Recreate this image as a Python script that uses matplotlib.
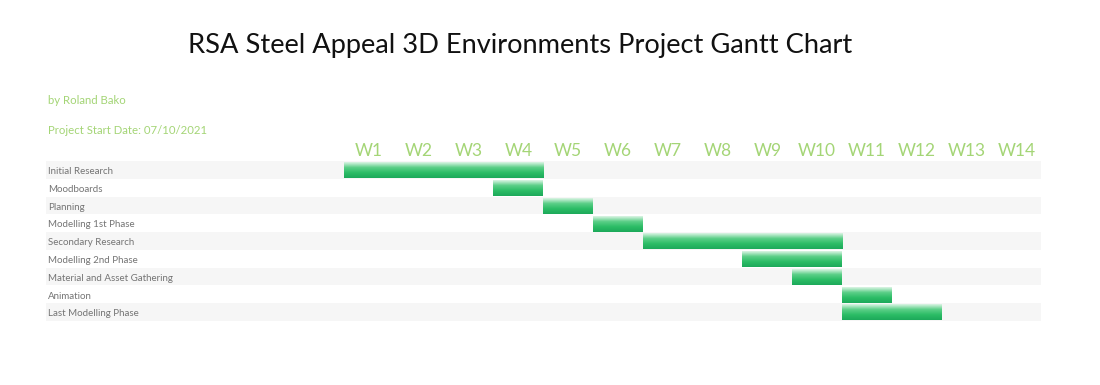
import numpy as np
import matplotlib
matplotlib.use('Agg')
from matplotlib import pyplot as plt
from matplotlib.colors import LinearSegmentedColormap

#%% DATA

TITLE = 'RSA Steel Appeal 3D Environments Project Gantt Chart'
AUTHOR = 'by Roland Bako'
START = 'Project Start Date: 07/10/2021'

tasks = ['Initial Research', 'Moodboards', 'Planning', 'Modelling 1st Phase',
         'Secondary Research', 'Modelling 2nd Phase',
         'Material and Asset Gathering', 'Animation', 'Last Modelling Phase']
start_week = [0, 3, 4, 5, 6, 8, 9, 10, 10]
end_week = [4, 4, 5, 6, 10, 10, 10, 11, 12]
weeks = ['W%d' % i for i in range(1, 15)]

#%% STYLE

plt.rcParams['font.family'] = ['Lato', 'DejaVu Sans']
GREEN_TXT = '#a4d576'
BAND = '#f6f6f6'
bar_cmap = LinearSegmentedColormap.from_list(
    'bar', ['#dcf5e5', '#5ccf88', '#2cbd66', '#1ca95a'])

W, H = 1100, 385
WEEK_PX = 49.8
fig = plt.figure(figsize=(W / 100, H / 100), dpi=100)

# axes box in pixels: left 46, right at week 14, top 161, bottom 321
px_left, px_top, px_bot = 46, 161, 321
px_right = 344 + 14 * WEEK_PX
ax = fig.add_axes([px_left / W, 1 - px_bot / H,
                   (px_right - px_left) / W, (px_bot - px_top) / H])
x0 = -(344 - px_left) / WEEK_PX
ax.set_xlim(x0, 14)
ax.set_ylim(len(tasks), 0)
ax.axis('off')

# row bands and labels
for i, name in enumerate(tasks):
    if i % 2 == 0:
        ax.axhspan(i, i + 1, color=BAND, lw=0, zorder=0)
    ax.text(x0 + 0.04, i + 0.6, name, fontsize=7, color='#747474',
            va='center', ha='left')

# gradient bars
grad = np.linspace(0, 1, 64).reshape(-1, 1)
for i in range(len(tasks)):
    ax.imshow(grad, cmap=bar_cmap, aspect='auto', interpolation='bilinear',
              extent=(start_week[i], end_week[i], i + 0.97, i + 0.08),
              zorder=2)
ax.set_xlim(x0, 14)
ax.set_ylim(len(tasks), 0)

# week labels
for j, w in enumerate(weeks):
    ax.text(j + 0.5, -0.1, w, fontsize=12.5, color=GREEN_TXT,
            ha='center', va='bottom', clip_on=False)

fig.text(520 / W, 1 - 46 / H, TITLE, fontsize=19.6, color='#111111',
         ha='center', va='center')
fig.text(48 / W, 1 - 101 / H, AUTHOR, fontsize=8.2, color=GREEN_TXT,
         ha='left', va='center')
fig.text(48 / W, 1 - 130 / H, START, fontsize=8.2, color=GREEN_TXT,
         ha='left', va='center')

fig.savefig('out.png', dpi=100, facecolor='white')
